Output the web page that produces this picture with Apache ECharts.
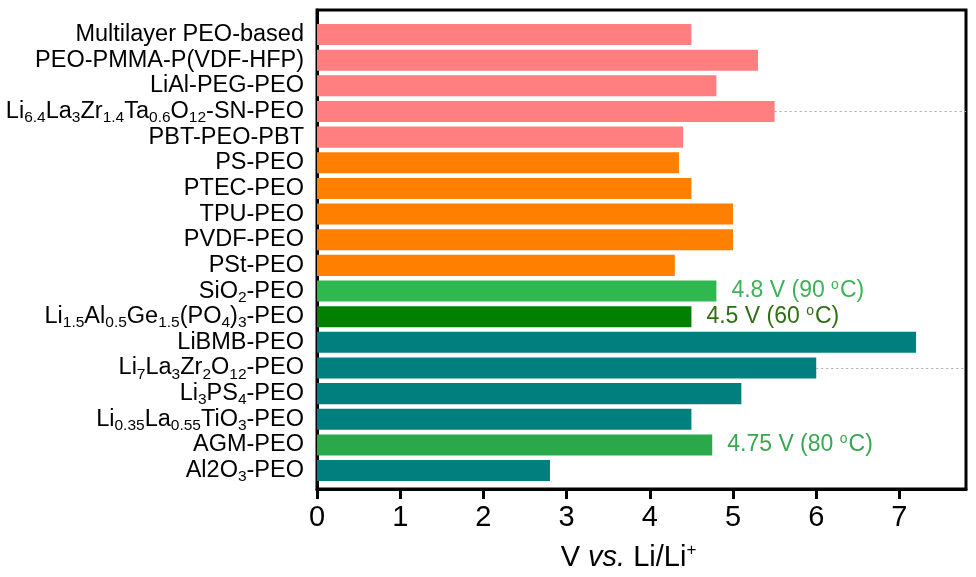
<!DOCTYPE html>
<html>
<head>
<meta charset="utf-8">
<script src="https://cdn.jsdelivr.net/npm/echarts@6/dist/echarts.min.js"></script>
<style>html,body{margin:0;padding:0;background:#fff}#c{width:976px;height:577px}</style>
</head>
<body>
<div id="c"></div>
<script>
// ---- data ----
const categories = [
  'Multilayer PEO-based',
  'PEO-PMMA-P(VDF-HFP)',
  'LiAl-PEG-PEO',
  'Li{s|6.4}La{s|3}Zr{s|1.4}Ta{s|0.6}O{s|12}-SN-PEO',
  'PBT-PEO-PBT',
  'PS-PEO',
  'PTEC-PEO',
  'TPU-PEO',
  'PVDF-PEO',
  'PSt-PEO',
  'SiO{s|2}-PEO',
  'Li{s|1.5}Al{s|0.5}Ge{s|1.5}(PO{s|4}){s|3}-PEO',
  'LiBMB-PEO',
  'Li{s|7}La{s|3}Zr{s|2}O{s|12}-PEO',
  'Li{s|3}PS{s|4}-PEO',
  'Li{s|0.35}La{s|0.55}TiO{s|3}-PEO',
  'AGM-PEO',
  'Al2O{s|3}-PEO'
];
const values = [4.5, 5.3, 4.8, 5.5, 4.4, 4.35, 4.5, 5.0, 5.0, 4.3, 4.8, 4.5, 7.2, 6.0, 5.1, 4.5, 4.75, 2.8];
const barColors = [
  '#ff7f80', '#ff7f80', '#ff7f80', '#ff7f80', '#ff7f80',
  '#ff8000', '#ff8000', '#ff8000', '#ff8000', '#ff8000',
  '#30b850', '#007f00',
  '#007f7f', '#007f7f', '#007f7f', '#007f7f',
  '#2aa84a', '#007f7f'
];
// annotations: [category index, text, color]
const notes = [
  [10, '4.8 V (90 {o|o}C)', '#3cb356'],
  [11, '4.5 V (60 {o|o}C)', '#2f6f14'],
  [16, '4.75 V (80 {o|o}C)', '#3aa652']
];
const dottedRows = [3, 13];
const xTickValues = [0, 1, 2, 3, 4, 5, 6, 7];
const xRange = { min: 0, max: 7.8 };

// ---- chart ----
const FONT = 'Liberation Sans, Arial, sans-serif';
const chart = echarts.init(document.getElementById('c'), null, { renderer: 'canvas' });

const seriesData = values.map((v, i) => {
  const item = { value: v, itemStyle: { color: barColors[i] } };
  const n = notes.find(a => a[0] === i);
  if (n) {
    item.label = {
      show: true, position: 'right', distance: 15,
      formatter: n[1], color: n[2], fontSize: 23, fontFamily: FONT,
      rich: { o: { fontSize: 14, color: n[2], fontFamily: FONT, padding: [0, 1, 12, 0] } }
    };
  }
  return item;
});

const markLineData = dottedRows.map(i => [
  { coord: [values[i], i] },
  { coord: [xRange.max, i] }
]);

chart.setOption({
  animation: false,
  textStyle: { fontFamily: FONT },
  grid: [
    { left: 317, right: 10, top: 10, bottom: 87, show: true, borderColor: '#000', borderWidth: 3, backgroundColor: 'transparent' },
    { left: 317, right: 10, top: 21.7, bottom: 93.6 }
  ],
  xAxis: [
    {
      gridIndex: 0, type: 'value', min: xRange.min, max: xRange.max,
      axisLine: { show: true, lineStyle: { color: '#000', width: 3 } },
      axisTick: { show: true, length: 10, customValues: xTickValues, lineStyle: { color: '#000', width: 3 } },
      splitLine: { show: false },
      axisLabel: {
        color: '#000', fontSize: 29, fontFamily: FONT, margin: 14,
        customValues: xTickValues
      },
      name: 'V {i|vs.} Li/Li{p|+}',
      nameLocation: 'middle', nameGap: 53,
      nameTextStyle: {
        color: '#000', fontSize: 29, fontFamily: FONT, padding: [0, 26, 0, 0],
        rich: {
          i: { fontStyle: 'italic', fontSize: 29, fontFamily: FONT, color: '#000' },
          p: { fontSize: 17, fontFamily: FONT, color: '#000', padding: [0, 0, 14, 0] }
        }
      }
    },
    {
      gridIndex: 1, type: 'value', min: xRange.min, max: xRange.max,
      show: false, splitLine: { show: false }
    }
  ],
  yAxis: [
    {
      gridIndex: 0, type: 'value', min: 0, max: 1,
      axisLine: { show: true, lineStyle: { color: '#000', width: 3 } },
      axisTick: { show: false }, axisLabel: { show: false }, splitLine: { show: false }
    },
    {
      gridIndex: 1, type: 'category', data: categories, inverse: true,
      axisLine: { show: false }, axisTick: { show: false }, splitLine: { show: false },
      axisLabel: {
        interval: 0,
        color: '#000', fontSize: 23.5, fontFamily: FONT, margin: 13, lineHeight: 26,
        rich: { s: { fontSize: 15.5, fontFamily: FONT, color: '#000', lineHeight: 26, padding: [13, 0, 0, 0] } }
      }
    }
  ],
  series: [
    {
      type: 'bar', xAxisIndex: 1, yAxisIndex: 1,
      data: seriesData, barCategoryGap: '18%',
      markLine: {
        silent: true, symbol: 'none', label: { show: false },
        lineStyle: { type: [2, 3], color: '#aaaaaa', width: 1 },
        data: markLineData
      }
    }
  ]
});
</script>
</body>
</html>
